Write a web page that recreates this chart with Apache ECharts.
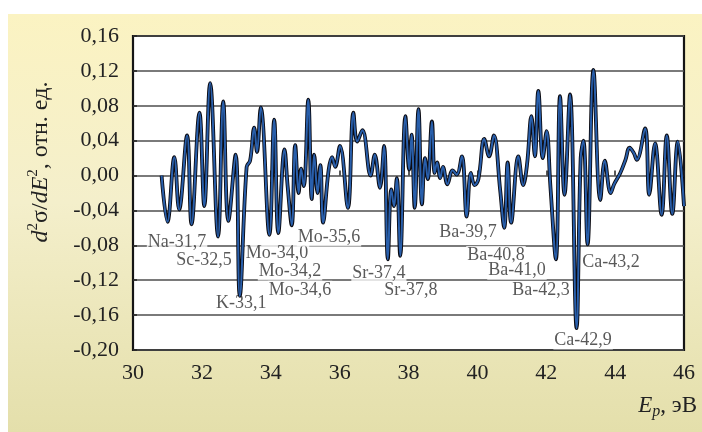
<!DOCTYPE html>
<html>
<head>
<meta charset="utf-8">
<script src="https://cdn.jsdelivr.net/npm/echarts@6/dist/echarts.min.js"></script>
<style>
  html, body { margin: 0; padding: 0; background: #fff; }
  #chart { width: 702px; height: 432px; }
</style>
</head>
<body>
<div id="chart"></div>
<script>
// Second derivative of the cross-section vs. photon energy
const energies = [
  30.83, 31.00, 31.20, 31.34, 31.57, 31.70, 31.93, 32.07, 32.24, 32.47,
  32.62, 32.77, 32.98, 33.10, 33.30, 33.40, 33.52, 33.60, 33.71, 33.96,
  34.10, 34.22, 34.40, 34.49, 34.61, 34.71, 34.81, 34.88, 34.96, 35.09,
  35.19, 35.26, 35.36, 35.44, 35.52, 35.68, 35.78, 35.87, 36.01, 36.24,
  36.40, 36.51, 36.66, 36.90, 37.02, 37.17, 37.29, 37.40, 37.50, 37.58,
  37.66, 37.76, 37.91, 38.02, 38.09, 38.18, 38.29, 38.39, 38.48, 38.56,
  38.68, 38.76, 38.83, 38.92, 39.00, 39.13, 39.28, 39.40, 39.55, 39.69,
  39.81, 39.92, 40.03, 40.20, 40.34, 40.48, 40.66, 40.78, 40.88, 40.98,
  41.19, 41.33, 41.44, 41.57, 41.67, 41.77, 41.90, 42.01, 42.12, 42.28,
  42.40, 42.53, 42.69, 42.88, 43.00, 43.08, 43.20, 43.37, 43.57, 43.70,
  43.87, 43.97, 44.15, 44.30, 44.42, 44.54, 44.63, 44.87, 44.99, 45.16,
  45.35, 45.50, 45.66, 45.82, 46.00
];
const values = [
  0.000, -0.053, 0.021, -0.039, 0.046, -0.056, 0.072, -0.035, 0.106, -0.070,
  0.085, -0.052, 0.024, -0.138, 0.010, 0.017, 0.055, 0.027, 0.078, -0.068,
  0.064, -0.066, 0.030, -0.012, -0.057, 0.035, -0.020, 0.008, -0.012, 0.087,
  -0.027, 0.024, -0.020, 0.012, -0.054, 0.006, 0.021, 0.010, 0.034, -0.037,
  0.072, 0.039, 0.052, 0.000, 0.024, -0.014, 0.034, -0.096, -0.016, -0.035,
  -0.003, -0.092, 0.068, 0.007, 0.047, -0.037, 0.076, -0.033, 0.020, -0.004,
  0.062, 0.003, 0.015, -0.003, 0.010, -0.010, 0.006, 0.001, 0.022, -0.047,
  0.003, -0.011, -0.004, 0.042, 0.022, 0.046, -0.016, -0.060, 0.015, -0.054,
  0.022, -0.011, 0.012, 0.068, 0.022, 0.097, 0.020, 0.051, -0.012, -0.096,
  0.091, -0.022, 0.093, -0.175, 0.020, 0.040, -0.079, 0.121, -0.028, 0.017,
  -0.020, -0.010, 0.003, 0.018, 0.032, 0.026, 0.018, 0.054, -0.022, 0.037,
  -0.045, 0.046, -0.044, 0.039, -0.035
];

// Element line annotations and where their text sits (energy, value)
const lineNames = [
  'Na-31,7', 'Sc-32,5', 'K-33,1', 'Mo-34,0', 'Mo-34,2', 'Mo-34,6', 'Mo-35,6',
  'Sr-37,4', 'Sr-37,8', 'Ba-39,7', 'Ba-40,8', 'Ba-41,0', 'Ba-42,3', 'Ca-42,9', 'Ca-43,2'
];
const lineLabelE = [
  31.28, 32.06, 33.14, 34.18, 34.56, 34.85, 35.69,
  37.14, 38.07, 39.73, 40.54, 41.15, 41.85, 43.07, 43.88
];
const lineLabelV = [
  -0.077, -0.097, -0.146, -0.089, -0.110, -0.131, -0.071,
  -0.112, -0.132, -0.065, -0.091, -0.109, -0.132, -0.189, -0.099
];

const xMin = 30, xMax = 46, xStep = 2;
const yMin = -0.20, yMax = 0.16, yStep = 0.04;

const curve = energies.map((e, i) => [e, values[i]]);
const marks = lineNames.map((n, i) => ({ name: n, value: [lineLabelE[i], lineLabelV[i]] }));

const serif = '"Liberation Serif", "DejaVu Serif", serif';
const ink = '#222222';
const chart = echarts.init(document.getElementById('chart'), null, { renderer: 'canvas' });

chart.setOption({
  backgroundColor: '#ffffff',
  animation: false,
  graphic: [
    {
      type: 'rect', z: -10, silent: true,
      shape: { x: 8, y: 14, width: 694, height: 418 },
      style: {
        fill: new echarts.graphic.LinearGradient(0, 0, 0, 1, [
          { offset: 0, color: '#fbf3c2' },
          { offset: 0.45, color: '#f4efcb' },
          { offset: 1, color: '#e4dfab' }
        ])
      }
    },
    {
      type: 'text', silent: true, z: 5,
      x: 41, y: 162, rotation: Math.PI / 2,
      style: {
        text: '{i|d}{sup|2}{n|σ/}{i|dE}{sup|2}{n|, отн. ед.}',
        align: 'center', verticalAlign: 'middle',
        fill: ink,
        rich: {
          i: { fontFamily: serif, fontStyle: 'italic', fontSize: 24, fill: ink },
          n: { fontFamily: serif, fontSize: 24, fill: ink },
          sup: { fontFamily: serif, fontSize: 15, fill: ink, padding: [0, 0, 16, 0] }
        }
      }
    },
    {
      type: 'text', silent: true, z: 5,
      x: 697, y: 406,
      style: {
        text: '{i|E}{sub|p}{n|, эВ}',
        align: 'right', verticalAlign: 'middle',
        fill: ink,
        rich: {
          i: { fontFamily: serif, fontStyle: 'italic', fontSize: 23, fill: ink },
          sub: { fontFamily: serif, fontStyle: 'italic', fontSize: 16, fill: ink, padding: [12, 0, 0, 0] },
          n: { fontFamily: serif, fontSize: 23, fill: ink }
        }
      }
    }
  ],
  grid: {
    left: 133, top: 36, right: 18, bottom: 82,
    show: true, backgroundColor: '#ffffff',
    borderColor: '#151515', borderWidth: 2.2
  },
  xAxis: {
    type: 'value', min: xMin, max: xMax, interval: xStep,
    axisLine: { show: false },
    axisTick: { show: true, inside: true, length: 5, lineStyle: { color: '#222', width: 1.5 } },
    splitLine: { show: false },
    axisLabel: {
      fontFamily: serif, fontSize: 22, color: ink, margin: 12
    }
  },
  yAxis: {
    type: 'value', min: yMin, max: yMax, interval: yStep,
    axisLine: { show: false },
    axisTick: { show: true, inside: true, length: 4, lineStyle: { color: '#222', width: 1.5 } },
    splitLine: { show: true, lineStyle: { color: '#4e4e4e', width: 1.6 } },
    axisLabel: {
      fontFamily: serif, fontSize: 22, color: ink, margin: 14,
      formatter: v => v.toFixed(2).replace('.', ',')
    }
  },
  series: [
    {
      type: 'scatter', z: 1, silent: true,
      symbolSize: 0,
      data: marks,
      label: {
        show: true, position: 'inside',
        formatter: p => p.name,
        fontFamily: serif, fontSize: 18, color: '#303030',
        backgroundColor: '#ffffff', padding: [0, 1, 0, 1]
      }
    },
    {
      type: 'line', z: 3, silent: true,
      data: curve, showSymbol: false, smooth: 0.4,
      lineStyle: { color: '#0b0b12', width: 3.8 }
    },
    {
      type: 'line', z: 4, silent: true,
      data: curve, showSymbol: false, smooth: 0.4,
      lineStyle: { color: '#2c68bc', width: 2.0, opacity: 0.9 }
    }
  ]
});
</script>
</body>
</html>
